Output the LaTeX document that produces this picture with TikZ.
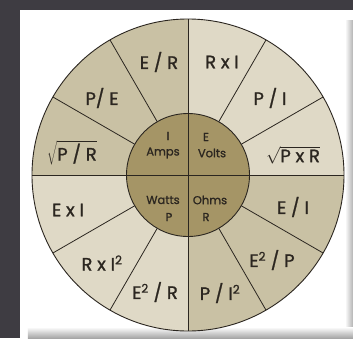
\documentclass[tikz,border=0pt]{standalone}
\usepackage{fontspec}
\setmainfont{Poppins}
\newfontfamily\wheelfont{Poppins}[FakeBold=1.2]
\definecolor{frame}{HTML}{3E3C42}
\definecolor{tandark}{HTML}{C9C1A4}
\definecolor{tanlight}{HTML}{DFD9C6}
\definecolor{hub}{HTML}{A59566}
\definecolor{ink}{HTML}{2B2620}
\tikzset{
    outerlabel/.style={font=\wheelfont\fontsize{18}{20}\selectfont, text=ink, inner sep=0pt},
    innerlabel/.style={font=\wheelfont\fontsize{11.5}{12}\selectfont, text=ink, inner sep=0pt},
    spoke/.style={draw=ink, line width=0.8pt},
    % one quarter of the outer ring
    quarter/.style={fill=#1},
}
\newcommand{\sq}{\textsuperscript{\fontsize{12}{12}\selectfont 2}}
\begin{document}
\begin{tikzpicture}[x=1pt, y=1pt]
    \useasboundingbox (-188,-163) rectangle (165,175);
    \fill[frame] (-188,-163) rectangle (165,175);
    \fill[white] (-168,-163) rectangle (165,165);
    \shade[left color=white, right color=gray!60] (157,155) rectangle (165,-163);
    \shade[top color=white, bottom color=gray!70] (-160,-152) rectangle (165,-163);

    % outer ring
    \fill[quarter=tanlight] (0,0) -- (0:156) arc (0:90:156) -- cycle;
    \fill[quarter=tandark] (0,0) -- (90:156) arc (90:180:156) -- cycle;
    \fill[quarter=tanlight] (0,0) -- (180:156) arc (180:270:156) -- cycle;
    \fill[quarter=tandark] (0,0) -- (270:156) arc (270:360:156) -- cycle;
    \draw[ink, line width=0.9pt] (0,0) circle (156);

    % hub
    \fill[hub] (0,0) circle (61.5);
    \draw[ink, line width=0.9pt] (0,0) circle (61.5);

    \foreach \a in {30,60,120,150,210,240,300,330}
        \draw[spoke] (\a:61.5) -- (\a:156);
    \draw[spoke] (-156,0) -- (156,0);
    \draw[spoke] (0,-156) -- (0,156);

    \node[innerlabel] (isym) at (-20,39) {I};
    \node[innerlabel] (iname) at (-25,22) {Amps};
    \node[innerlabel] (esym) at (18,38) {E};
    \node[innerlabel] (ename) at (24,22) {Volts};
    \node[innerlabel] (pname) at (-25,-25) {Watts};
    \node[innerlabel] (psym) at (-19,-42) {P};
    \node[innerlabel] (rname) at (22,-25) {Ohms};
    \node[innerlabel] (rsym) at (18,-42) {R};

    \node[outerlabel] (er) at (-29,113) {E / R};
    \node[outerlabel] (rxi) at (34,113) {R x I};
    \node[outerlabel] (pe) at (-86,77) {P/ E};
    \node[outerlabel] (pi) at (82,77) {P / I};
    \node[outerlabel] (sqpr) at (-116,22) {$\sqrt{\hbox{P / R}}$};
    \node[outerlabel] (sqpxr) at (105,20) {$\sqrt{\hbox{P x R}}$};
    \node[outerlabel] (exi) at (-120,-35) {E x I};
    \node[outerlabel] (ei) at (105,-32) {E / I};
    \node[outerlabel] (rxii) at (-86,-88) {R x I\sq};
    \node[outerlabel] (eep) at (84,-85) {E\sq{} / P};
    \node[outerlabel] (eer) at (-33,-117) {E\sq{} / R};
    \node[outerlabel] (pii) at (32,-118) {P / I\sq};
\end{tikzpicture}
\end{document}
